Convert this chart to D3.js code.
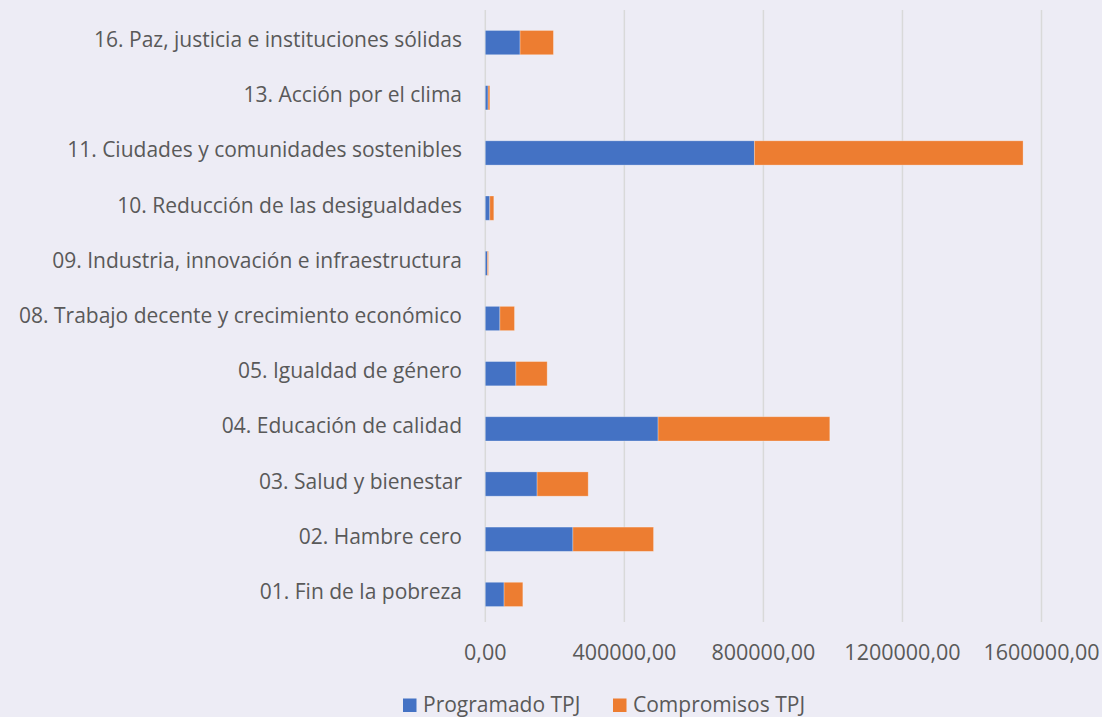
<!DOCTYPE html>
<html><head><meta charset="utf-8">
<script src="https://cdn.jsdelivr.net/npm/d3@7"></script>
<style>body{margin:0;background:#EDECF5;}svg{display:block;}</style>
</head><body>
<svg id="c" width="1102" height="717"></svg>
<script>
const categories = [
  "16. Paz, justicia e instituciones sólidas",
  "13. Acción por el clima",
  "11. Ciudades y comunidades sostenibles",
  "10. Reducción de las desigualdades",
  "09. Industria, innovación e infraestructura",
  "08. Trabajo decente y crecimiento económico",
  "05. Igualdad de género",
  "04. Educación de calidad",
  "03. Salud y bienestar",
  "02. Hambre cero",
  "01. Fin de la pobreza"
];
const programado = [100000, 8000, 774000, 13000, 6000, 42000, 88000, 497000, 149000, 252000, 54000];
const compromisos = [96000, 5000, 773000, 11500, 3000, 42000, 90000, 494000, 147000, 232000, 54000];
const ticks = [0, 400000, 800000, 1200000, 1600000];
const seriesNames = ["Programado TPJ", "Compromisos TPJ"];
const colors = ["#4472C4", "#ED7D31"];

const svg = d3.select("#c");
const font = "'Open Sans', sans-serif";
const x = d3.scaleLinear().domain([0, 1600000]).range([485.3, 1041.5]);
const y = d3.scaleBand().domain(categories).range([15, 622]).paddingInner(0.56).paddingOuter(0.28);

svg.append("rect").attr("width",1102).attr("height",717).attr("fill","#EDECF5");

// gridlines
svg.append("g").selectAll("line").data(ticks).join("line")
  .attr("x1", d=>x(d)).attr("x2", d=>x(d)).attr("y1", 10).attr("y2", 622)
  .attr("stroke","#D9D9D9").attr("stroke-width",1.5);

const data = categories.map((c,i)=>({c, p: programado[i], m: compromisos[i]}));
const g = svg.append("g");
g.selectAll("rect.p").data(data).join("rect").attr("class","p")
  .attr("x", x(0)).attr("y", d=>y(d.c)).attr("width", d=>x(d.p)-x(0)).attr("height", y.bandwidth())
  .attr("fill", colors[0]).attr("stroke","rgba(255,255,255,0.35)").attr("stroke-width",0.8);
g.selectAll("rect.m").data(data).join("rect").attr("class","m")
  .attr("x", d=>x(d.p)).attr("y", d=>y(d.c)).attr("width", d=>x(d.p+d.m)-x(d.p)).attr("height", y.bandwidth())
  .attr("fill", colors[1]).attr("stroke","rgba(255,255,255,0.35)").attr("stroke-width",0.8);

// category labels
svg.append("g").selectAll("text").data(categories).join("text")
  .attr("x", 462).attr("y", d=>y(d)+y.bandwidth()/2 + 4.5)
  .attr("text-anchor","end").attr("font-family",font).attr("font-size",21).attr("fill","#595959")
  .text(d=>d);

// x tick labels
const fmt = d => d3.format(".2f")(d).replace(".", ",");
svg.append("g").selectAll("text").data(ticks).join("text")
  .attr("x", d=>x(d)).attr("y", 660).attr("text-anchor","middle")
  .attr("font-family",font).attr("font-size",21.5).attr("fill","#595959").text(fmt);

// legend
const lg = svg.append("g");
const lx = [403, 613];
seriesNames.forEach((s,i)=>{
  lg.append("rect").attr("x", lx[i]).attr("y", 698.5).attr("width",13.5).attr("height",13.5).attr("fill",colors[i]);
  lg.append("text").attr("x", lx[i]+20).attr("y", 712)
    .attr("font-family",font).attr("font-size",21).attr("fill","#595959").text(s);
});
</script>
</body></html>
